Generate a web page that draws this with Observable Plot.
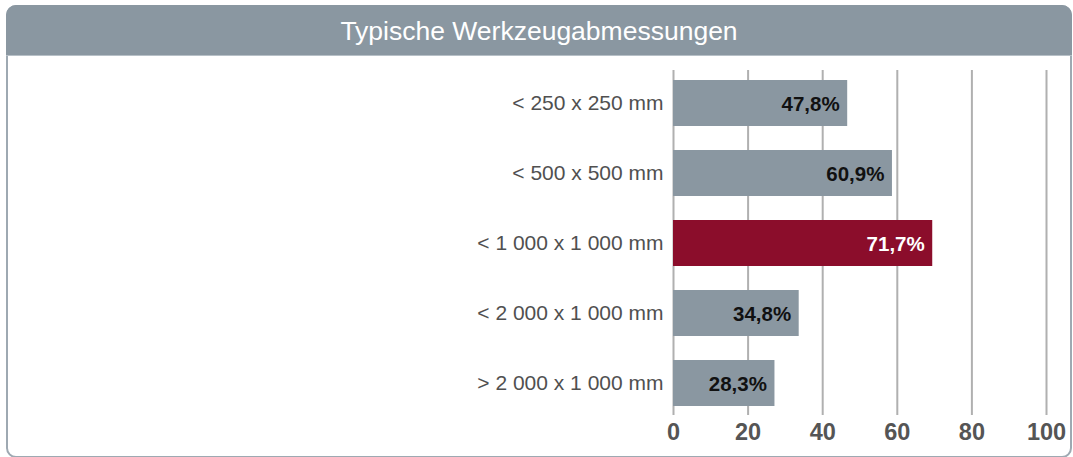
<!DOCTYPE html>
<html>
<head>
<meta charset="utf-8">
<script src="https://cdn.jsdelivr.net/npm/d3@7"></script>
<script src="https://cdn.jsdelivr.net/npm/@observablehq/plot@0.6"></script>
<style>
  html, body { margin: 0; padding: 0; background: #fff; width: 1073px; height: 457px; overflow: hidden; }
  body { font-family: "Liberation Sans", Arial, Helvetica, sans-serif; position: relative; }
  #frame {
    position: absolute; left: 6px; top: 5px; width: 1066px; height: 453px;
    box-sizing: border-box; border: 2px solid #9ea9b2; border-radius: 10px; overflow: hidden;
  }
  #header {
    position: absolute; left: 6px; top: 5px; width: 1066px; height: 51px;
    background: #8a97a1; border-radius: 10px 10px 0 0; color: #fff;
    font-size: 26.5px; line-height: 53px; text-align: center;
    border-bottom: 1px solid #b7c0c7; box-sizing: border-box;
  }
  #chart { position: absolute; left: 0; top: 56px; }
</style>
</head>
<body>
<div id="frame"></div>
<div id="header">Typische Werkzeugabmessungen</div>
<div id="chart"></div>
<script>
// Categories (top to bottom)
const categories = [
  "< 250 x 250 mm",
  "< 500 x 500 mm",
  "< 1 000 x 1 000 mm",
  "< 2 000 x 1 000 mm",
  "> 2 000 x 1 000 mm"
];
// Bar lengths as drawn on the axis
const barValues = [46.7, 58.7, 69.5, 33.7, 27.2];
// Printed share labels (percent)
const shareLabels = [47.8, 60.9, 71.7, 34.8, 28.3];
// Highlighted category
const highlight = "< 1 000 x 1 000 mm";
// X axis ticks
const xTicks = [0, 20, 40, 60, 80, 100];

const data = categories.map((c, i) => ({
  category: c,
  value: barValues[i],
  label: shareLabels[i].toFixed(1).replace(".", ",") + "%",
  hi: c === highlight
}));

const chart = Plot.plot({
  width: 1073,
  height: 401,
  marginLeft: 673,
  marginRight: 27,
  marginTop: 14,
  marginBottom: 42,
  style: { fontFamily: '"Liberation Sans", Arial, Helvetica, sans-serif', background: "transparent" },
  x: { domain: [0, 100] },
  y: { domain: categories, paddingInner: 0.35, paddingOuter: 0.13 },
  marks: [
    Plot.ruleX(xTicks, { stroke: "#b0b0b0", strokeWidth: 2 }),
    Plot.barX(data, {
      x: "value", y: "category",
      fill: d => d.hi ? "#8b0d2b" : "#8a97a1"
    }),
    Plot.text(data, {
      x: "value", y: "category", text: "label",
      textAnchor: "end", dx: -8, dy: 1,
      fontSize: 20.5, fontWeight: "bold",
      fill: d => d.hi ? "#ffffff" : "#111111"
    }),
    Plot.axisY({
      tickSize: 0, tickPadding: 10, fontSize: 21, fill: "#505050", label: null
    }),
    Plot.axisX({
      ticks: xTicks, tickSize: 0, tickPadding: 8, fontSize: 23.5,
      fontWeight: "bold", fill: "#555555", label: null
    })
  ]
});
document.getElementById("chart").append(chart);
</script>
</body>
</html>
